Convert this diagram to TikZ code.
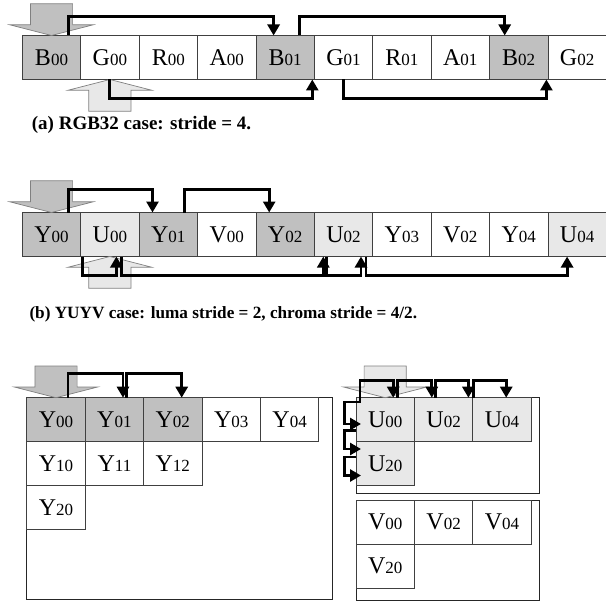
\documentclass[tikz,border=0pt]{standalone}
\usepackage{fontspec}
\setmainfont{Liberation Serif}
\usepackage{tikz}
\usetikzlibrary{arrows.meta,positioning}
\definecolor{mycdark}{HTML}{C0C0C0}
\definecolor{myclight}{HTML}{E8E8E8}
\definecolor{mycedge}{HTML}{404040}
\definecolor{mycptr}{HTML}{808080}
\newcommand{\smp}[2]{{\fontsize{24}{24}\selectfont #1}{\fontsize{17}{17}\selectfont #2}}
\newcommand{\ptrdown}[2]{\draw[#1] (#2) -- ++(-41.7,-10.7) -- ++(20.6,0) -- ++(0,-21) -- ++(42.2,0) -- ++(0,21) -- ++(20.6,0) -- cycle;}
\newcommand{\ptrup}[2]{\draw[#1] (#2) -- ++(-41.7,10.7) -- ++(20.6,0) -- ++(0,21) -- ++(42.2,0) -- ++(0,-21) -- ++(20.6,0) -- cycle;}

\begin{document}
\begin{tikzpicture}[
  x=1pt,y=-1pt,
  cell/.style={draw=mycedge,line width=0.8pt,fill=white,minimum width=58.4pt,minimum height=44pt,inner sep=0pt,outer sep=0pt},
  dark/.style={cell,fill=mycdark},
  light/.style={cell,fill=myclight},
  plane/.style={draw=black!85,line width=0.8pt,inner sep=0pt,outer sep=0pt,anchor=north west},
  ptr/.style={draw=mycptr,line width=0.7pt,fill=mycdark},
  ptrl/.style={draw=mycptr,line width=0.7pt,fill=myclight},
  jump/.style={-{Triangle[length=11pt,width=12pt]},line width=2.9pt},
  caption/.style={font=\fontsize{17.2}{17.2}\selectfont\bfseries,anchor=base west,inner sep=0pt}
]
\useasboundingbox (0,0) rectangle (606,602);

% (a) RGB32
\node[dark] (aB00) at (51.5,57.5) {\smp{B}{00}};
\node[cell,right=0pt of aB00] (aG00) {\smp{G}{00}};
\node[cell,right=0pt of aG00] (aR00) {\smp{R}{00}};
\node[cell,right=0pt of aR00] (aA00) {\smp{A}{00}};
\node[dark,right=0pt of aA00] (aB01) {\smp{B}{01}};
\node[cell,right=0pt of aB01] (aG01) {\smp{G}{01}};
\node[cell,right=0pt of aG01] (aR01) {\smp{R}{01}};
\node[cell,right=0pt of aR01] (aA01) {\smp{A}{01}};
\node[dark,right=0pt of aA01] (aB02) {\smp{B}{02}};
\node[cell,right=0pt of aB02] (aG02) {\smp{G}{02}};

\ptrdown{ptr}{aB00.north}
\ptrup{ptrl}{aG00.south}

\draw[jump] ([xshift=16.6pt]aB00.north) -- ++(0,-19) -| ([xshift=-11.5pt]aB01.north);
\draw[jump] ([xshift=14.3pt]aB01.north) -- ++(0,-19) -| ([xshift=-14pt]aB02.north);
\draw[jump] (aG00.south) -- ++(0,19) -| ([xshift=-2pt]aB01.south east);
\draw[jump] (aG01.south) -- ++(0,19) -| ([xshift=-1.5pt]aB02.south east);

\node[caption,font=\fontsize{19}{19}\selectfont\bfseries] (capa) at (31.7,130) {(a) RGB32 case: stride = 4.};

% (b) YUYV
\node[dark] (bY00) at (51.5,234.5) {\smp{Y}{00}};
\node[light,right=0pt of bY00] (bU00) {\smp{U}{00}};
\node[dark,right=0pt of bU00] (bY01) {\smp{Y}{01}};
\node[cell,right=0pt of bY01] (bV00) {\smp{V}{00}};
\node[dark,right=0pt of bV00] (bY02) {\smp{Y}{02}};
\node[light,right=0pt of bY02] (bU02) {\smp{U}{02}};
\node[cell,right=0pt of bU02] (bY03) {\smp{Y}{03}};
\node[cell,right=0pt of bY03] (bV02) {\smp{V}{02}};
\node[cell,right=0pt of bV02] (bY04) {\smp{Y}{04}};
\node[light,right=0pt of bY04] (bU04) {\smp{U}{04}};

\ptrdown{ptr}{bY00.north}
\ptrup{ptrl}{bU00.south}

\draw[jump] ([xshift=16.6pt]bY00.north) -- ++(0,-23) -| ([xshift=-15.8pt]bY01.north);
\draw[jump] ([xshift=16.5pt]bY01.north) -- ++(0,-23) -| ([xshift=-15.9pt]bY02.north);
\draw[jump] ([xshift=1.7pt]bU00.south west) -- ++(0,19.3) -| ([xshift=6.5pt]bU00.south);
\draw[jump] ([xshift=11.8pt]bU00.south) -- ++(0,19.3) -| ([xshift=9pt]bU02.south west);
\draw[jump] ([xshift=12.4pt]bU02.south west) -- ++(0,19.3) -| ([xshift=17.5pt]bU02.south);
\draw[jump] ([xshift=-6.7pt]bU02.south east) -- ++(0,19.3) -| ([xshift=-10pt]bU04.south);

\node[caption] (capb) at (29.3,318.5) {(b) YUYV case: luma stride = 2, chroma stride = 4/2.};

% planar Y
\node[plane,minimum width=305.6pt,minimum height=201.6pt] (yplane) at (26.7,397.7) {};
\node[dark] (cY00) at (56,419.7) {\smp{Y}{00}};
\node[dark,right=0pt of cY00] (cY01) {\smp{Y}{01}};
\node[dark,right=0pt of cY01] (cY02) {\smp{Y}{02}};
\node[cell,right=0pt of cY02] (cY03) {\smp{Y}{03}};
\node[cell,right=0pt of cY03] (cY04) {\smp{Y}{04}};
\node[cell,below=0pt of cY00] (cY10) {\smp{Y}{10}};
\node[cell,right=0pt of cY10] (cY11) {\smp{Y}{11}};
\node[cell,right=0pt of cY11] (cY12) {\smp{Y}{12}};
\node[cell,below=0pt of cY10] (cY20) {\smp{Y}{20}};

% planar U and V
\node[plane,minimum width=183.3pt,minimum height=96pt] (uplane) at (356,397.7) {};
\node[light] (cU00) at (385.2,419.7) {\smp{U}{00}};
\node[light,right=0pt of cU00] (cU02) {\smp{U}{02}};
\node[light,right=0pt of cU02] (cU04) {\smp{U}{04}};
\node[light,below=0pt of cU00] (cU20) {\smp{U}{20}};

\node[plane,minimum width=183.3pt,minimum height=99.7pt] (vplane) at (356,500.3) {};
\node[cell] (cV00) at (385.2,522.3) {\smp{V}{00}};
\node[cell,right=0pt of cV00] (cV02) {\smp{V}{02}};
\node[cell,right=0pt of cV02] (cV04) {\smp{V}{04}};
\node[cell,below=0pt of cV00] (cV20) {\smp{V}{20}};

\ptrdown{ptr}{cY00.north}
\ptrdown{ptrl}{cU00.north}

\draw[jump] ([xshift=12pt]cY00.north) -- ++(0,-24.4) -| ([xshift=8.6pt]cY01.north);
\draw[jump] ([xshift=12pt]cY01.north) -- ++(0,-24.4) -| ([xshift=8.9pt]cY02.north);

\draw[jump] ([xshift=4pt]cU00.north west) -- ++(0,-17) -| ([xshift=8pt]cU00.north);
\draw[jump] ([xshift=12.5pt]cU00.north) -- ++(0,-17) -| ([xshift=-11.8pt]cU02.north);
\draw[jump] ([xshift=-8.5pt]cU02.north) -- ++(0,-17) -| ([xshift=-4.4pt]cU02.north east);
\draw[jump] ([xshift=0.6pt]cU04.north west) -- ++(0,-17) -| ([xshift=4.2pt]cU04.north);
\draw[jump] ([xshift=4pt]cU00.north west) -- ++(0,4.3) -- ++(-15.5,0) |- ([shift={(5pt,-26.3pt)}]cU00.north west);
\draw[jump] ([yshift=-32.8pt]cU00.north west) -- ++(-11.5,0) |- ([shift={(5pt,-51.3pt)}]cU00.north west);
\draw[jump] ([yshift=-59.3pt]cU00.north west) -- ++(-11.5,0) |- ([shift={(5pt,-77.8pt)}]cU00.north west);
\end{tikzpicture}
\end{document}
